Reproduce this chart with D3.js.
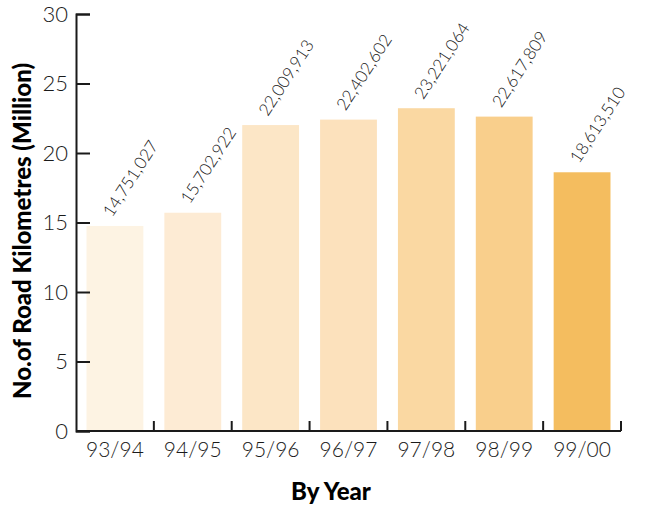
<!DOCTYPE html>
<html>
<head>
<meta charset="utf-8">
<script src="https://cdn.jsdelivr.net/npm/d3@7"></script>
<style>
  html, body { margin: 0; padding: 0; background: #fff; }
  svg { display: block; font-family: "Lato", "Open Sans", sans-serif; }
</style>
</head>
<body>
<svg id="chart" width="648" height="506"></svg>
<script>
// Road kilometres travelled per financial year
const years = ["93/94", "94/95", "95/96", "96/97", "97/98", "98/99", "99/00"];
const kilometres = [14751027, 15702922, 22009913, 22402602, 23221064, 22617809, 18613510];
const barColors = ["#fdf3e3", "#fdebd4", "#fce6c6", "#fce1bc", "#fad8a2", "#f9cf8c", "#f4bd5f"];
const yTicks = [0, 5, 10, 15, 20, 25, 30];

const svg = d3.select("#chart");
const margin = { left: 76, right: 27, top: 14, bottom: 75 };
const W = 648, H = 506;

const x = d3.scaleBand()
  .domain(years)
  .range([margin.left, W - margin.right])
  .paddingInner(0.27)
  .paddingOuter(0.135);

const y = d3.scaleLinear()
  .domain([0, 30])
  .range([H - margin.bottom, margin.top]);

const ink = "#1a1a1a";

// bars (values in millions)
svg.append("g").selectAll("rect")
  .data(years)
  .join("rect")
  .attr("x", d => x(d))
  .attr("width", x.bandwidth())
  .attr("y", (d, i) => y(kilometres[i] / 1e6))
  .attr("height", (d, i) => y(0) - y(kilometres[i] / 1e6))
  .attr("fill", (d, i) => barColors[i]);

// value labels, rotated above each bar
svg.append("g").selectAll("text")
  .data(years)
  .join("text")
  .attr("transform", (d, i) => {
    const cx = x(d) + x.bandwidth() / 2 - 3;
    const cy = y(kilometres[i] / 1e6) - 8;
    return `translate(${cx},${cy}) rotate(-57)`;
  })
  .attr("font-size", 17)
  .attr("font-weight", 300)
  .attr("fill", ink)
  .text((d, i) => d3.format(",")(kilometres[i]));

// y axis
const yAxis = d3.axisRight(y)
  .tickValues(yTicks)
  .tickSize(14)
  .tickFormat("");
const gy = svg.append("g")
  .attr("transform", `translate(${margin.left},0)`)
  .call(yAxis);
gy.select(".domain").attr("stroke", ink).attr("stroke-width", 2);
gy.selectAll(".tick line").attr("stroke", ink).attr("stroke-width", 2);

svg.append("g").selectAll("text")
  .data(yTicks)
  .join("text")
  .attr("x", margin.left - 8)
  .attr("y", d => y(d))
  .attr("dy", "0.36em")
  .attr("text-anchor", "end")
  .attr("font-size", 22)
  .attr("font-weight", 300)
  .attr("fill", ink)
  .text(d => d);

// x axis: baseline with upward ticks at band boundaries
const step = x.step();
const boundaries = years.map(d => x(d) + x.bandwidth() + (step - x.bandwidth()) / 2);
const gx = svg.append("g");
gx.append("line")
  .attr("x1", margin.left).attr("x2", boundaries[boundaries.length - 1])
  .attr("y1", y(0)).attr("y2", y(0))
  .attr("stroke", ink).attr("stroke-width", 2);
gx.selectAll("line.tick")
  .data(boundaries)
  .join("line")
  .attr("class", "tick")
  .attr("x1", d => d).attr("x2", d => d)
  .attr("y1", y(0)).attr("y2", y(0) - 10)
  .attr("stroke", ink).attr("stroke-width", 2);
gx.selectAll("text")
  .data(years)
  .join("text")
  .attr("x", d => x(d) + x.bandwidth() / 2)
  .attr("y", y(0) + 26)
  .attr("text-anchor", "middle")
  .attr("font-size", 21)
  .attr("font-weight", 300)
  .attr("fill", ink)
  .text(d => d);

// axis titles
svg.append("text")
  .attr("transform", `translate(31,231) rotate(-90)`)
  .attr("text-anchor", "middle")
  .attr("font-size", 24)
  .attr("font-weight", 900)
  .attr("fill", "#000")
  .text("No.of Road Kilometres (Million)");

svg.append("text")
  .attr("x", 331)
  .attr("y", 500)
  .attr("text-anchor", "middle")
  .attr("font-size", 24)
  .attr("font-weight", 900)
  .attr("fill", "#000")
  .text("By Year");
</script>
</body>
</html>
